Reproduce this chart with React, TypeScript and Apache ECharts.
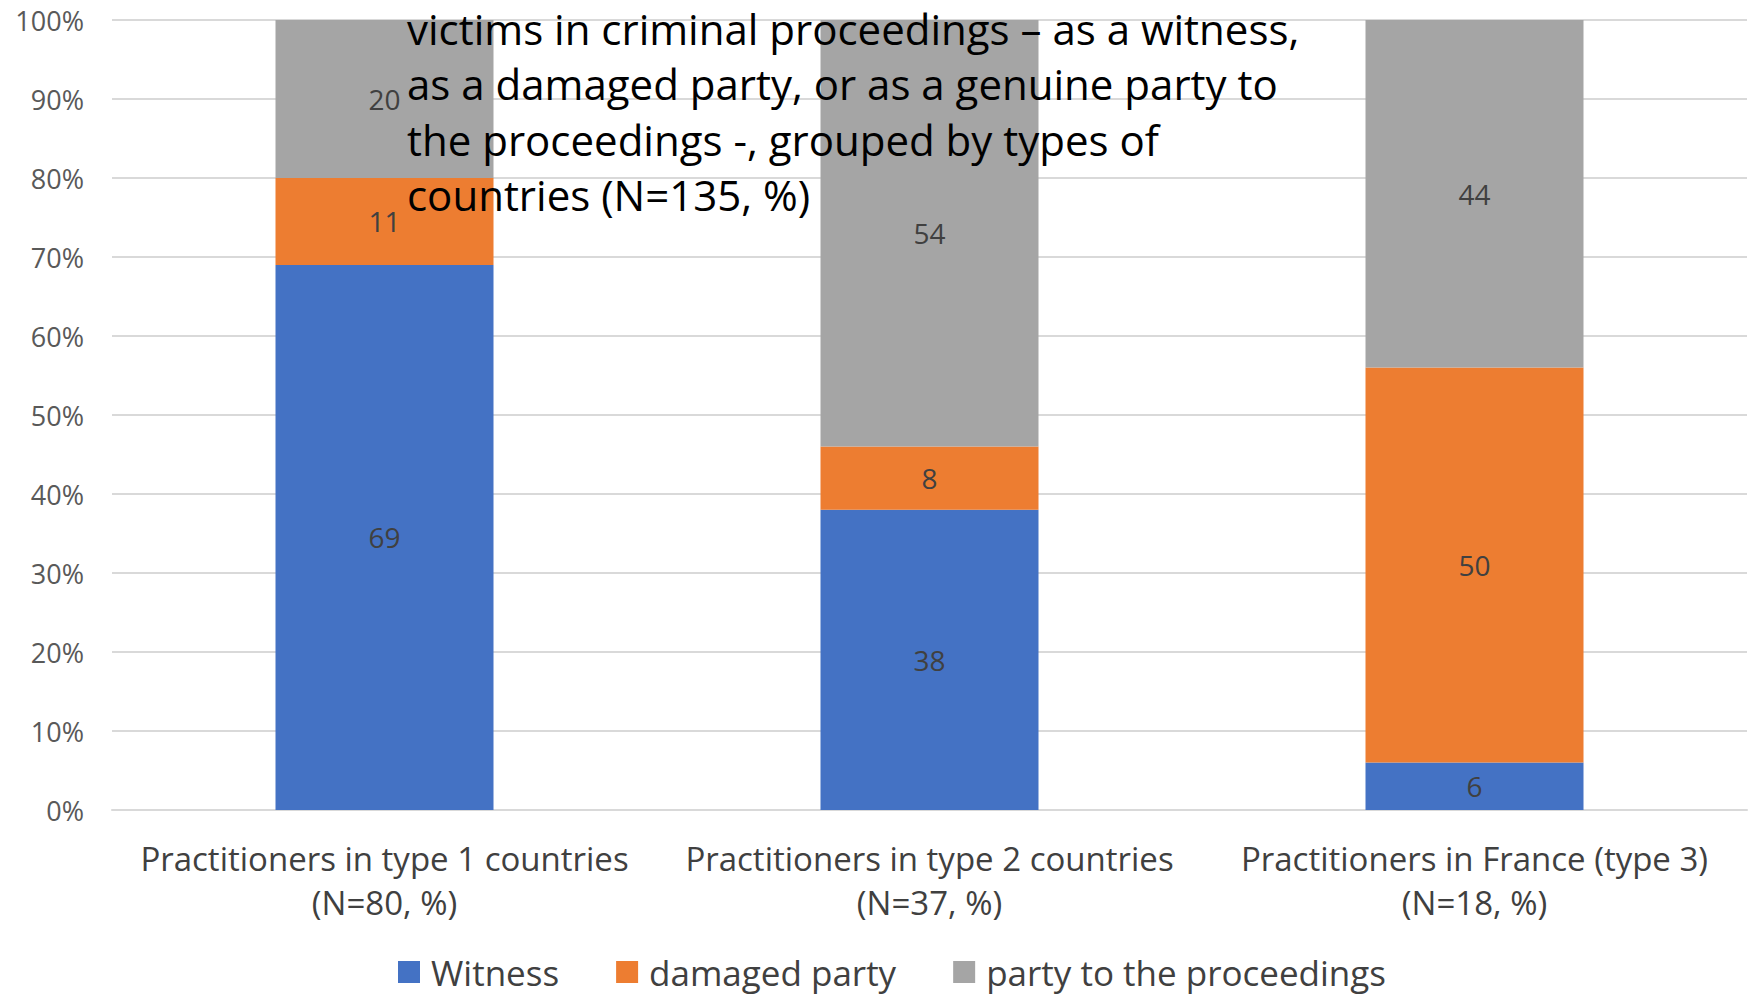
import React, { useEffect, useRef } from "react";
import * as echarts from "echarts";

const categories = [
  "Practitioners in type 1 countries\n(N=80, %)",
  "Practitioners in type 2 countries\n(N=37, %)",
  "Practitioners in France (type 3)\n(N=18, %)",
];
const witness = [69, 38, 6];
const damagedParty = [11, 8, 50];
const partyToProceedings = [20, 54, 44];
const titleLines = [
  "victims in criminal proceedings – as a witness,",
  "as a damaged party, or as a genuine party to",
  "the proceedings -, grouped by types of",
  "countries (N=135, %)",
];

const FONT = "'Open Sans', 'Noto Sans', sans-serif";

export default function App() {
  const ref = useRef<HTMLDivElement>(null);

  useEffect(() => {
    document.body.style.margin = "0";
    if (!ref.current) return;
    const chart = echarts.init(ref.current, undefined, { renderer: "svg" });

    const label = {
      show: true,
      position: "inside",
      color: "#404040",
      fontSize: 28,
      fontFamily: FONT,
    };
    const mk = (name: string, data: number[], color: string) => ({
      name,
      type: "bar",
      stack: "total",
      data,
      barWidth: "40%",
      itemStyle: { color },
      label,
    });

    // Title lines drawn one by one, layered above the bars
    const titleGraphics = titleLines.map((line, i) => ({
      type: "text",
      x: 407,
      y: 28 + i * 55.5,
      z: 100,
      style: {
        text: line,
        fill: "#000000",
        font: `42px ${FONT}`,
        lineHeight: 42,
        verticalAlign: "middle",
        align: "left",
      },
    }));

    chart.setOption({
      animation: false,
      textStyle: { fontFamily: FONT },
      grid: { left: 112, right: 5, top: 20, bottom: 186 },
      xAxis: {
        type: "category",
        data: categories,
        axisLine: { show: true, lineStyle: { color: "#D9D9D9", width: 2 } },
        axisTick: { show: false },
        axisLabel: {
          interval: 0,
          hideOverlap: false,
          color: "#404040",
          fontSize: 33,
          lineHeight: 44,
          margin: 26,
          fontFamily: FONT,
        },
      },
      yAxis: {
        type: "value",
        min: 0,
        max: 100,
        interval: 10,
        axisLine: { show: false },
        axisTick: { show: false },
        splitLine: { lineStyle: { color: "#D9D9D9", width: 2 } },
        axisLabel: {
          formatter: "{value}%",
          color: "#595959",
          fontSize: 27,
          margin: 28,
          fontFamily: FONT,
        },
      },
      legend: {
        left: 393,
        top: 949,
        itemWidth: 22,
        itemHeight: 22,
        itemGap: 57,
        icon: "rect",
        textStyle: {
          color: "#404040",
          fontSize: 35,
          lineHeight: 36,
          fontFamily: FONT,
          padding: [0, 0, 0, 6],
        },
        data: ["Witness", "damaged party", "party to the proceedings"],
      },
      series: [
        mk("Witness", witness, "#4472C4"),
        mk("damaged party", damagedParty, "#ED7D31"),
        mk("party to the proceedings", partyToProceedings, "#A5A5A5"),
      ],
      graphic: titleGraphics,
    });

    return () => chart.dispose();
  }, []);

  return <div ref={ref} style={{ width: 1752, height: 996 }} />;
}
